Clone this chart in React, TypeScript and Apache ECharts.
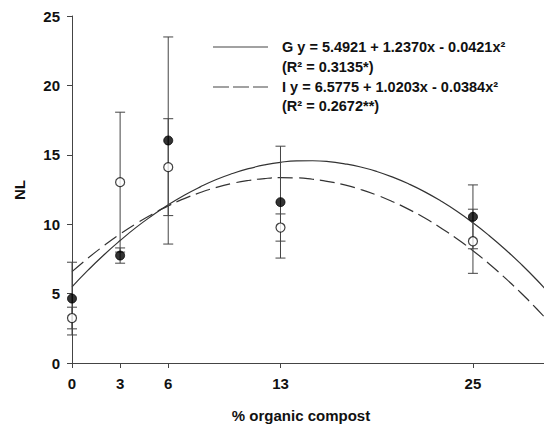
import React, { useEffect, useRef } from "react";
import * as echarts from "echarts";

// Compost doses (x) and tick labels
const doses = [0, 3, 6, 13, 25];
const xTickLabels = ["0", "3", "6", "13", "25"];
const yTicks = [0, 5, 10, 15, 20, 25];

// G (filled circles): means and error half-widths
const gMeans = [4.64, 7.74, 16.03, 11.59, 10.53];
const gErr = [2.62, 0.55, 7.46, 4.03, 2.3];
// I (open circles)
const iMeans = [3.24, 13.03, 14.11, 9.76, 8.77];
const iErr = [0.78, 5.04, 3.49, 0.98, 2.31];

// Fitted curves read at x = 0..30
const curveX = [0, 1, 2, 3, 4, 5, 6, 7, 8, 9, 10, 11, 12, 13, 14, 15, 16, 17, 18, 19, 20, 21, 22, 23, 24, 25, 26, 27, 28, 29, 30];
const gFit = [5.49, 6.69, 7.8, 8.82, 9.77, 10.62, 11.4, 12.09, 12.69, 13.22, 13.65, 14.0, 14.27, 14.46, 14.56, 14.57, 14.51, 14.35, 14.12, 13.8, 13.39, 12.9, 12.33, 11.67, 10.93, 10.1, 9.19, 8.2, 7.12, 5.96, 4.71];
const iFit = [6.58, 7.56, 8.46, 9.29, 10.04, 10.72, 11.32, 11.84, 12.28, 12.65, 12.94, 13.15, 13.29, 13.35, 13.34, 13.24, 13.07, 12.83, 12.5, 12.1, 11.62, 11.07, 10.44, 9.73, 8.95, 8.09, 7.15, 6.13, 5.04, 3.87, 2.63];

const legendLines = [
  "G y = 5.4921 + 1.2370x - 0.0421x²",
  "(R² = 0.3135*)",
  "I y = 6.5775 + 1.0203x - 0.0384x²",
  "(R² = 0.2672**)",
];

const FONT = "'Liberation Sans', Arial, Helvetica, sans-serif";
const AXIS = "#444";
const INK = "#111";

export default function App() {
  const ref = useRef<HTMLDivElement>(null);
  useEffect(() => {
    if (!ref.current) return;
    const chart = echarts.init(ref.current, undefined, { renderer: "svg" });

    const errRender = (params: any, api: any) => {
      const x = api.value(0);
      const lo = api.coord([x, api.value(1)]);
      const hi = api.coord([x, api.value(2)]);
      const w = 5;
      const st = { stroke: AXIS, lineWidth: 1 };
      return {
        type: "group",
        children: [
          { type: "line", shape: { x1: lo[0], y1: lo[1], x2: hi[0], y2: hi[1] }, style: st },
          { type: "line", shape: { x1: lo[0] - w, y1: lo[1], x2: lo[0] + w, y2: lo[1] }, style: st },
          { type: "line", shape: { x1: hi[0] - w, y1: hi[1], x2: hi[0] + w, y2: hi[1] }, style: st },
        ],
      };
    };

    const gErrData = doses.map((d, k) => [d, gMeans[k] - gErr[k], gMeans[k] + gErr[k]]);
    const iErrData = doses.map((d, k) => [d, iMeans[k] - iErr[k], iMeans[k] + iErr[k]]);

    const labelFont = { fontFamily: FONT, fontWeight: "bold" as const, fontSize: 15, color: INK };

    chart.setOption({
      animation: false,
      grid: { left: 72, right: 0, top: 16, bottom: 63, containLabel: false },
      xAxis: {
        type: "value",
        min: 0,
        max: 29.43,
        splitLine: { show: false },
        axisLine: { lineStyle: { color: AXIS, width: 1 } },
        axisTick: { show: true, length: 5, lineStyle: { color: AXIS }, customValues: doses },
        axisLabel: {
          ...labelFont,
          margin: 13,
          customValues: doses,
          formatter: (v: number) => {
            const k = doses.indexOf(v);
            return k >= 0 ? xTickLabels[k] : "";
          },
        },
      },
      yAxis: {
        type: "value",
        min: yTicks[0],
        max: yTicks[yTicks.length - 1],
        interval: 5,
        splitLine: { show: false },
        axisLine: { show: true, lineStyle: { color: AXIS, width: 1 } },
        axisTick: { show: true, length: 5, lineStyle: { color: AXIS } },
        axisLabel: { ...labelFont, margin: 12 },
      },
      series: [
        {
          name: "G fit",
          type: "line",
          data: curveX.map((x, k) => [x, gFit[k]]),
          showSymbol: false,
          smooth: true,
          lineStyle: { color: "#333", width: 1.2, type: "solid" },
          z: 1,
        },
        {
          name: "I fit",
          type: "line",
          data: curveX.map((x, k) => [x, iFit[k]]),
          showSymbol: false,
          smooth: true,
          lineStyle: { color: "#333", width: 1.2, type: [15, 6] },
          z: 1,
        },
        {
          name: "G err",
          type: "custom",
          renderItem: errRender,
          data: gErrData,
          encode: { x: 0, y: [1, 2] },
          z: 2,
        },
        {
          name: "I err",
          type: "custom",
          renderItem: errRender,
          data: iErrData,
          encode: { x: 0, y: [1, 2] },
          z: 2,
        },
        {
          name: "I",
          type: "scatter",
          data: doses.map((d, k) => [d, iMeans[k]]),
          symbol: "circle",
          symbolSize: 9,
          itemStyle: { color: "#fff", borderColor: "#111", borderWidth: 1.2 },
          z: 3,
        },
        {
          name: "G",
          type: "scatter",
          data: doses.map((d, k) => [d, gMeans[k]]),
          symbol: "circle",
          symbolSize: 9,
          itemStyle: { color: "#000", borderColor: "#000", borderWidth: 1 },
          z: 4,
        },
      ],
      graphic: [
        {
          type: "line",
          shape: { x1: 213, y1: 47, x2: 268, y2: 47 },
          style: { stroke: "#444", lineWidth: 1.2 },
        },
        {
          type: "line",
          shape: { x1: 213, y1: 87, x2: 268, y2: 87 },
          style: { stroke: "#444", lineWidth: 1.2, lineDash: [16, 4] },
        },
        ...legendLines.map((t, k) => ({
          type: "text",
          style: {
            text: t,
            x: 282,
            y: [47, 67, 87, 106][k],
            align: "left",
            verticalAlign: "middle",
            fontFamily: FONT,
            fontWeight: "bold",
            fontSize: 14.5,
            fill: INK,
          },
        })),
        {
          type: "text",
          style: {
            text: "% organic compost",
            x: 301,
            y: 415,
            align: "center",
            verticalAlign: "middle",
            fontFamily: FONT,
            fontWeight: "bold",
            fontSize: 15,
            fill: INK,
          },
        },
        {
          type: "text",
          x: 19,
          y: 190,
          rotation: Math.PI / 2,
          style: {
            text: "NL",
            x: 0,
            y: 0,
            align: "center",
            verticalAlign: "middle",
            fontFamily: FONT,
            fontWeight: "bold",
            fontSize: 15,
            fill: INK,
          },
        },
      ],
    });
    return () => chart.dispose();
  }, []);
  return (
    <div
      ref={ref}
      style={{ position: "fixed", left: 0, top: 0, width: 544, height: 426, background: "#fff" }}
    />
  );
}
